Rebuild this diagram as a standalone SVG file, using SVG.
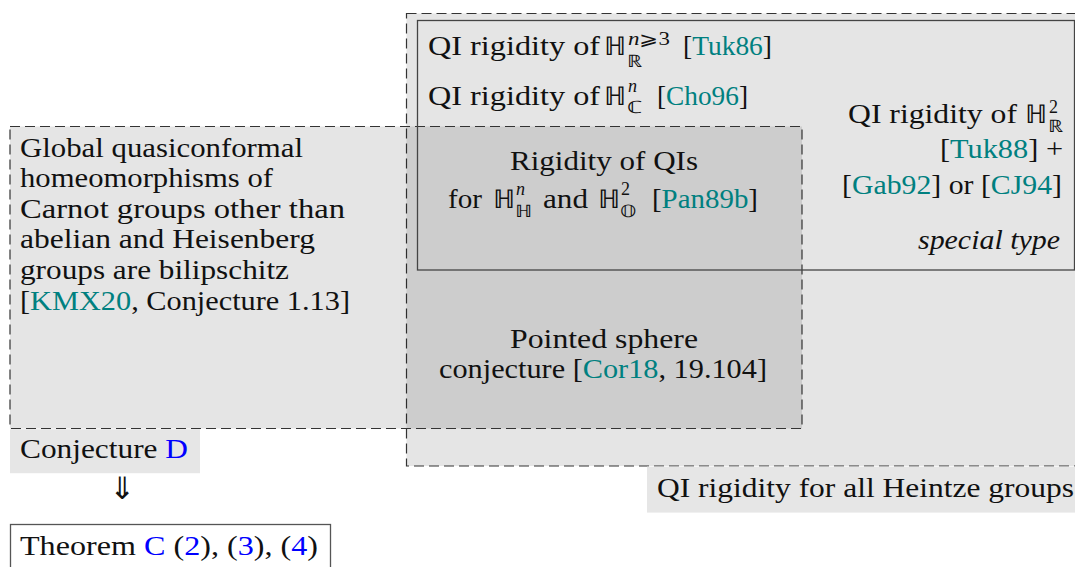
<svg xmlns="http://www.w3.org/2000/svg" width="1075" height="567" viewBox="0 0 1075 567">
<style>
.cite{fill:#008080}
.ref{fill:#0000ff}
.region{fill:#000;fill-opacity:0.1;stroke:#333;stroke-width:1.2;stroke-dasharray:10 5}
.solid{fill:none;stroke:#444;stroke-width:1.3}
.label{fill:#e6e6e6;stroke:none}
</style>
<rect width="1075" height="567" fill="#fff"/>
<g font-family="Liberation Serif" font-size="27" fill="#111">
<g id="heintze">
<rect class="region" x="406.5" y="13.5" width="690" height="452.5"/>
<rect class="label" x="647" y="466.6" width="430" height="46"/>
<text x="657" y="497" textLength="417" lengthAdjust="spacingAndGlyphs">QI rigidity for all Heintze groups</text>
</g>
<g id="carnot">
<rect class="region" x="10" y="126.5" width="792" height="302"/>
<text x="20" y="157" textLength="283" lengthAdjust="spacingAndGlyphs">Global quasiconformal</text>
<text x="20" y="187" textLength="253" lengthAdjust="spacingAndGlyphs">homeomorphisms of</text>
<text x="20" y="218" textLength="325" lengthAdjust="spacingAndGlyphs">Carnot groups other than</text>
<text x="20" y="248" textLength="295" lengthAdjust="spacingAndGlyphs">abelian and Heisenberg</text>
<text x="20" y="279" textLength="269" lengthAdjust="spacingAndGlyphs">groups are bilipschitz</text>
<text x="20" y="310" textLength="330" lengthAdjust="spacingAndGlyphs">[<tspan class="cite">KMX20</tspan>, Conjecture 1.13]</text>
</g>
<g id="rank-one">
<rect class="solid" x="417.5" y="20.5" width="657" height="249.5"/>
<text x="428" y="55" textLength="172" lengthAdjust="spacingAndGlyphs">QI rigidity of</text>
<text x="604" y="55" font-size="26" textLength="22" lengthAdjust="spacingAndGlyphs">ℍ</text>
<text x="628" y="45" font-size="18" textLength="42" lengthAdjust="spacingAndGlyphs"><tspan font-style="italic">n</tspan>⩾3</text>
<text x="627" y="67" font-size="17" textLength="15" lengthAdjust="spacingAndGlyphs">ℝ</text>
<text x="683" y="55" textLength="89" lengthAdjust="spacingAndGlyphs">[<tspan class="cite">Tuk86</tspan>]</text>
<text x="428" y="105" textLength="172" lengthAdjust="spacingAndGlyphs">QI rigidity of</text>
<text x="604" y="105" font-size="26" textLength="22" lengthAdjust="spacingAndGlyphs">ℍ</text>
<text x="628" y="92" font-size="18" font-style="italic">n</text>
<text x="627" y="113" font-size="17" textLength="16" lengthAdjust="spacingAndGlyphs">ℂ</text>
<text x="657" y="105" textLength="91" lengthAdjust="spacingAndGlyphs">[<tspan class="cite">Cho96</tspan>]</text>
<text x="848" y="123" textLength="169" lengthAdjust="spacingAndGlyphs">QI rigidity of</text>
<text x="1025" y="123" font-size="26" textLength="22" lengthAdjust="spacingAndGlyphs">ℍ</text>
<text x="1049" y="113" font-size="18">2</text>
<text x="1048" y="132" font-size="17" textLength="15" lengthAdjust="spacingAndGlyphs">ℝ</text>
<text x="940" y="158" textLength="123" lengthAdjust="spacingAndGlyphs">[<tspan class="cite">Tuk88</tspan>] +</text>
<text x="842" y="194" textLength="220" lengthAdjust="spacingAndGlyphs">[<tspan class="cite">Gab92</tspan>] or [<tspan class="cite">CJ94</tspan>]</text>
<text x="918" y="249" font-style="italic" textLength="142" lengthAdjust="spacingAndGlyphs">special type</text>
</g>
<g id="quaternionic">
<text x="510" y="170" textLength="188" lengthAdjust="spacingAndGlyphs">Rigidity of QIs</text>
<text x="448" y="208" textLength="34" lengthAdjust="spacingAndGlyphs">for</text>
<text x="493" y="208" font-size="26" textLength="22" lengthAdjust="spacingAndGlyphs">ℍ</text>
<text x="516" y="195" font-size="18" font-style="italic">n</text>
<text x="515" y="217" font-size="17" textLength="17" lengthAdjust="spacingAndGlyphs">ℍ</text>
<text x="543" y="208" textLength="45" lengthAdjust="spacingAndGlyphs">and</text>
<text x="598" y="208" font-size="26" textLength="22" lengthAdjust="spacingAndGlyphs">ℍ</text>
<text x="621" y="195" font-size="18">2</text>
<text x="620" y="217" font-size="17" textLength="16" lengthAdjust="spacingAndGlyphs">𝕆</text>
<text x="652" y="208" textLength="106" lengthAdjust="spacingAndGlyphs">[<tspan class="cite">Pan89b</tspan>]</text>
</g>
<g id="pointed-sphere">
<text x="510" y="348" textLength="188" lengthAdjust="spacingAndGlyphs">Pointed sphere</text>
<text x="439" y="378" textLength="328" lengthAdjust="spacingAndGlyphs">conjecture [<tspan class="cite">Cor18</tspan>, 19.104]</text>
</g>
<g id="conjecture-d">
<rect class="label" x="10" y="429.2" width="190" height="44"/>
<text x="20" y="458" textLength="168" lengthAdjust="spacingAndGlyphs">Conjecture <tspan class="ref">D</tspan></text>
</g>
<g id="theorem-c">
<rect x="10.5" y="524.5" width="320" height="50" fill="#fff" stroke="#555" stroke-width="1.3"/>
<text x="20" y="555" textLength="298" lengthAdjust="spacingAndGlyphs">Theorem <tspan class="ref">C</tspan> (<tspan class="ref">2</tspan>), (<tspan class="ref">3</tspan>), (<tspan class="ref">4</tspan>)</text>
</g>
</g>
<g id="connectors">
<text x="122.5" y="499" text-anchor="middle" font-family="DejaVu Sans" font-size="31" fill="#111">⇓</text>
</g>
</svg>
